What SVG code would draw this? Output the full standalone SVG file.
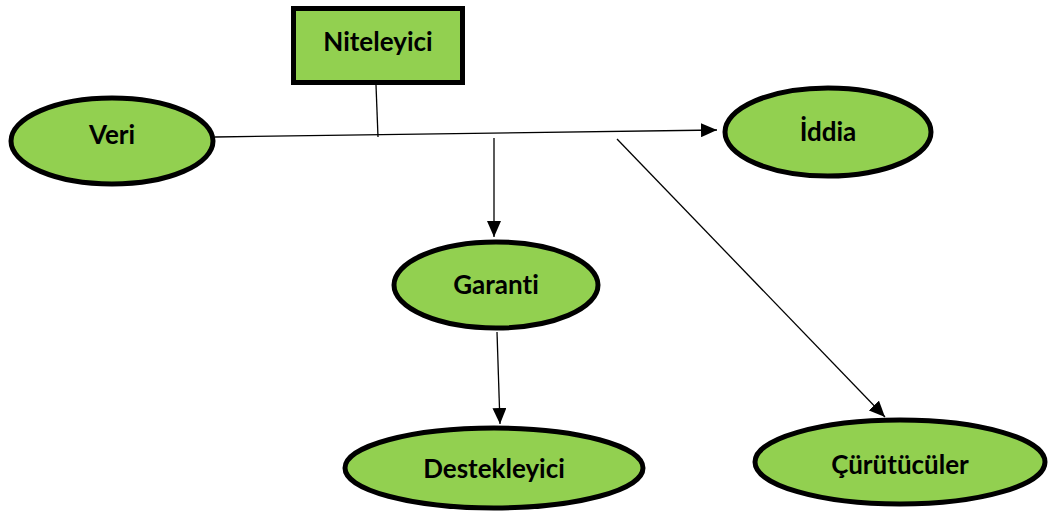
<svg xmlns="http://www.w3.org/2000/svg" width="1049" height="512" viewBox="0 0 1049 512">
<style>
.n{fill:#92D050;stroke:#000;stroke-width:5}
.t{font-family:Lato,"Open Sans","Liberation Sans",sans-serif;font-weight:bold;font-size:26px;fill:#000;text-anchor:middle;font-variant-ligatures:none}
.c{stroke:#000;stroke-width:1.3;fill:none}
</style>
<defs>
<marker id="ah" viewBox="0 0 16 14" refX="16" refY="7" markerWidth="16" markerHeight="14" markerUnits="userSpaceOnUse" orient="auto">
<path d="M0,0 L16,7 L0,14 Z" fill="#000"/>
</marker>
</defs>
<rect width="1049" height="512" fill="#fff"/>
<g id="connectors">
<line class="c" x1="215" y1="137" x2="717" y2="130" marker-end="url(#ah)"/>
<line class="c" x1="376" y1="85" x2="378" y2="137"/>
<line class="c" x1="494" y1="138" x2="494" y2="237" marker-end="url(#ah)"/>
<line class="c" x1="497" y1="332" x2="500" y2="424" marker-end="url(#ah)"/>
<line class="c" x1="617" y1="139" x2="885" y2="417" marker-end="url(#ah)"/>
</g>
<g id="niteleyici">
<rect class="n" x="293.5" y="8.5" width="169" height="74"/>
<text class="t" x="378" y="51">Niteleyici</text>
</g>
<g id="veri">
<ellipse class="n" cx="112" cy="141" rx="101" ry="43"/>
<text class="t" x="112" y="144">Veri</text>
</g>
<g id="iddia">
<ellipse class="n" cx="828" cy="132" rx="103" ry="44"/>
<text class="t" x="828" y="141">İddia</text>
</g>
<g id="garanti">
<ellipse class="n" cx="496" cy="285" rx="102" ry="43"/>
<text class="t" x="496" y="294">Garanti</text>
</g>
<g id="destekleyici">
<ellipse class="n" cx="494" cy="468" rx="149" ry="40"/>
<text class="t" x="494" y="478">Destekleyici</text>
</g>
<g id="curutuculer">
<ellipse class="n" cx="900" cy="462" rx="145" ry="42"/>
<text class="t" x="900" y="474">Çürütücüler</text>
</g>
</svg>
